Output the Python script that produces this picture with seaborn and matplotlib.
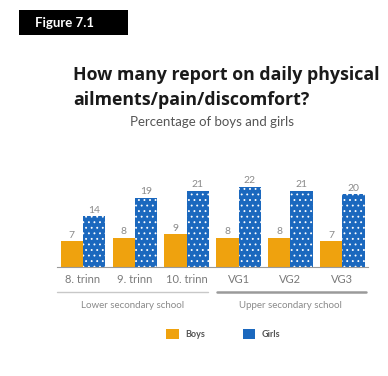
import matplotlib
matplotlib.use("Agg")
import matplotlib.pyplot as plt
from matplotlib.patches import Patch, Rectangle
import seaborn as sns
import pandas as pd

grades = ["8. trinn", "9. trinn", "10. trinn", "VG1", "VG2", "VG3"]
boys = [7, 8, 9, 8, 8, 7]
girls = [14, 19, 21, 22, 21, 20]
school_levels = ["Lower secondary school", "Upper secondary school"]

BOY_COLOR = "#EFA20E"
GIRL_COLOR = "#1B68BE"

df = pd.DataFrame({
    "grade": grades * 2,
    "pct": boys + girls,
    "sex": ["Boys"] * len(grades) + ["Girls"] * len(grades),
})

sns.set_theme(style="white")
plt.rcParams["font.family"] = ["Lato", "DejaVu Sans"]
plt.rcParams["hatch.linewidth"] = 0.6

fig = plt.figure(figsize=(3.88, 3.76), dpi=100)
ax = fig.add_axes([0.147, 0.290, 0.802, 0.242])

sns.barplot(data=df, x="grade", y="pct", hue="sex", order=grades,
            hue_order=["Boys", "Girls"], palette=[BOY_COLOR, GIRL_COLOR],
            width=0.86, gap=0, ax=ax, legend=False, linewidth=0, saturation=1)

# dotted fill on the girls' bars
for cont, lab in zip(ax.containers, ["Boys", "Girls"]):
    for p in cont.patches:
        if lab == "Girls":
            p.set_hatch("...")
            p.set_edgecolor("white")
            p.set_linewidth(0)
    ax.bar_label(cont, labels=[str(int(v)) for v in cont.datavalues],
                 padding=1, fontsize=7.5, color="#8a8a8a")

ax.set_ylim(0, 25)
ax.set_xlim(-0.5, len(grades) - 0.5)
ax.set_xlabel("")
ax.set_ylabel("")
ax.set_yticks([])
for s in ["top", "right", "left"]:
    ax.spines[s].set_visible(False)
ax.spines["bottom"].set_color("#9a9a9a")
ax.spines["bottom"].set_linewidth(0.8)
ax.set_xticks(range(len(grades)), grades)
ax.tick_params(axis="x", length=3, width=0.8, color="#9a9a9a", direction="out",
               labelsize=8, labelcolor="#7a7a7a", pad=2)
ax.set_xticks([-0.5, len(grades) - 0.5], minor=True)
ax.tick_params(axis="x", which="minor", length=3, width=0.8, color="#9a9a9a",
               direction="inout")

# school level brackets below the tick labels
tr = ax.get_xaxis_transform()
ax.plot([-0.5, 2.42], [-0.27, -0.27], transform=tr, color="#c8c8c8", lw=1.0, clip_on=False)
ax.plot([2.58, 5.45], [-0.27, -0.27], transform=tr, color="#9a9a9a", lw=1.8, clip_on=False)
ax.text(0.95, -0.42, school_levels[0], transform=tr, ha="center", va="center",
        fontsize=7, color="#8a8a8a")
ax.text(4.0, -0.42, school_levels[1], transform=tr, ha="center", va="center",
        fontsize=7, color="#8a8a8a")

# header
fig.patches.append(Rectangle((0.049, 0.907), 0.281, 0.0665, transform=fig.transFigure,
                             facecolor="black", edgecolor="none"))
fig.text(0.09, 0.940, "Figure 7.1", ha="left", va="center", fontsize=9.5,
         fontweight="bold", color="white")
fig.text(0.188, 0.80, "How many report on daily physical", ha="left", va="center",
         fontsize=12.8, fontweight="bold", color="#1a1a1a", family=["Open Sans", "DejaVu Sans"])
fig.text(0.188, 0.733, "ailments/pain/discomfort?", ha="left", va="center",
         fontsize=12.8, fontweight="bold", color="#1a1a1a", family=["Open Sans", "DejaVu Sans"])
fig.text(0.546, 0.675, "Percentage of boys and girls", ha="center", va="center",
         fontsize=9.5, color="#555555")

# legend
handles = [Patch(facecolor=BOY_COLOR, edgecolor="none", label="Boys"),
           Patch(facecolor=GIRL_COLOR, edgecolor="white", hatch="+", lw=0, label="Girls")]
fig.legend(handles=handles, loc="center", bbox_to_anchor=(0.575, 0.112), ncol=2,
           frameon=False, prop={"size": 6.5, "weight": "bold"}, handlelength=1.4,
           handleheight=1.4, columnspacing=4.2, handletextpad=0.7, labelcolor="#555555")

fig.savefig("out.png", dpi=100)
